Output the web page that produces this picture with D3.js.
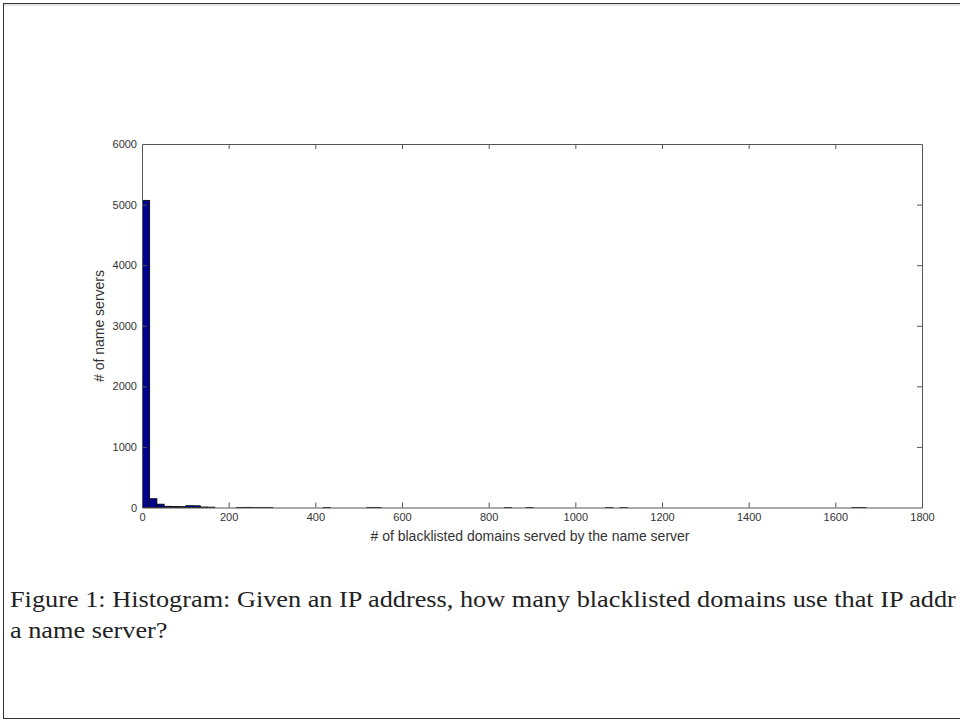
<!DOCTYPE html>
<html>
<head>
<meta charset="utf-8">
<script src="https://cdn.jsdelivr.net/npm/d3@7"></script>
<style>
  html, body { margin: 0; padding: 0; background: #fff; }
  svg { display: block; }
</style>
</head>
<body>
<svg id="chart" width="960" height="721"></svg>
<script>
// ---- data ----
const binMin = 1;
const binMax = 1671;
const counts = [
  5070, 145, 55, 20, 15, 14, 30, 28, 8, 6,
  0, 0, 0, 2, 3, 2, 2, 2, 0, 0,
  0, 0, 0, 0, 0, 2, 0, 0, 0, 0,
  0, 2, 1, 0, 0, 0, 0, 0, 0, 0,
  0, 0, 0, 0, 0, 0, 0, 0, 0, 0,
  1, 0, 0, 1, 0, 0, 0, 0, 0, 0,
  0, 0, 0, 0, 1, 0, 1, 0, 0, 0,
  0, 0, 0, 0, 0, 0, 0, 0, 0, 0,
  0, 0, 0, 0, 0, 0, 0, 0, 0, 0,
  0, 0, 0, 0, 0, 0, 0, 0, 1, 1
];
const xTicks = [0, 200, 400, 600, 800, 1000, 1200, 1400, 1600, 1800];
const yTicks = [0, 1000, 2000, 3000, 4000, 5000, 6000];
const xLabel = "# of blacklisted domains served by the name server";
const yLabel = "# of name servers";
const captionLine1 = "Figure 1: Histogram: Given an IP address, how many blacklisted domains use that IP addr";
const captionLine2 = "a name server?";

// ---- layout ----
const svg = d3.select("#chart");
const L = 142, R = 922, T = 144, B = 507.5;

// page frame
svg.append("rect").attr("x", 3.5).attr("y", 3.5).attr("width", 970).attr("height", 715)
  .attr("fill", "none").attr("stroke", "#333").attr("stroke-width", 1);
svg.append("line").attr("x1", 4).attr("x2", 960).attr("y1", 5).attr("y2", 5)
  .attr("stroke", "#ccc").attr("stroke-width", 1);

const x = d3.scaleLinear().domain([0, 1800]).range([L, R]);
const y = d3.scaleLinear().domain([0, 6000]).range([B, T]);

const binW = (binMax - binMin) / counts.length;
const bins = counts.map((c, i) => ({ x0: binMin + i * binW, x1: binMin + (i + 1) * binW, c }));

// bars
svg.append("g").selectAll("rect")
  .data(bins.filter(d => d.c > 0))
  .join("rect")
  .attr("x", d => x(d.x0))
  .attr("width", d => x(d.x1) - x(d.x0))
  .attr("y", d => y(d.c))
  .attr("height", d => Math.max(0, y(0) - y(d.c)))
  .attr("fill", "#00008f")
  .attr("stroke", "#000")
  .attr("stroke-width", 0.8);

const axisColor = "#555";
const font = "'Liberation Sans', Arial, sans-serif";

// bottom axis (ticks inward)
const gx = svg.append("g").attr("transform", `translate(0,${B})`)
  .call(d3.axisBottom(x).tickValues(xTicks).tickSizeInner(-5).tickSizeOuter(0).tickPadding(6)
    .tickFormat(d3.format("d")));
// top axis
const gxt = svg.append("g").attr("transform", `translate(0,${T})`)
  .call(d3.axisTop(x).tickValues(xTicks).tickSizeInner(-5).tickSizeOuter(0).tickFormat(""));
// left axis
const gy = svg.append("g").attr("transform", `translate(${L},0)`)
  .call(d3.axisLeft(y).tickValues(yTicks).tickSizeInner(-5).tickSizeOuter(0).tickPadding(5)
    .tickFormat(d3.format("d")));
// right axis
const gyr = svg.append("g").attr("transform", `translate(${R},0)`)
  .call(d3.axisRight(y).tickValues(yTicks).tickSizeInner(-5).tickSizeOuter(0).tickFormat(""));

[gx, gxt, gy, gyr].forEach(g => {
  g.selectAll("path.domain").attr("stroke", axisColor).attr("stroke-width", 1);
  g.selectAll(".tick line").attr("stroke", axisColor).attr("stroke-width", 1);
  g.selectAll(".tick text").attr("fill", "#333").style("font-family", font).style("font-size", "11px");
});
gx.selectAll(".tick text").attr("dy", "0.71em");
gx.selectAll(".tick line").filter(d => d === 0 || d === 1800).remove();
gxt.selectAll(".tick line").filter(d => d === 0 || d === 1800).remove();
gy.selectAll(".tick line").filter(d => d === 0 || d === 6000).remove();
gyr.selectAll(".tick line").filter(d => d === 0 || d === 6000).remove();

// axis labels
svg.append("text").attr("x", 530).attr("y", 541).attr("text-anchor", "middle")
  .style("font-family", font).style("font-size", "14px").attr("fill", "#333").text(xLabel);
svg.append("text").attr("transform", `translate(104,326) rotate(-90)`)
  .attr("text-anchor", "middle")
  .style("font-family", font).style("font-size", "14px").attr("fill", "#333").text(yLabel);

// caption (clipped at the right edge in the reference)
const capFont = "'Liberation Serif', 'DejaVu Serif', serif";
const capSize = 23;
const meas = svg.append("text").style("font-family", capFont).style("font-size", capSize + "px")
  .text(captionLine1);
const pw = meas.node().getComputedTextLength();
meas.remove();
const sx = 946 / pw;
const cap = svg.append("g").attr("transform", `translate(10,0) scale(${sx},1)`);
cap.append("text").attr("x", 0).attr("y", 607)
  .style("font-family", capFont).style("font-size", capSize + "px").attr("fill", "#222").text(captionLine1);
cap.append("text").attr("x", 0).attr("y", 638)
  .style("font-family", capFont).style("font-size", capSize + "px").attr("fill", "#222").text(captionLine2);
</script>
</body>
</html>
